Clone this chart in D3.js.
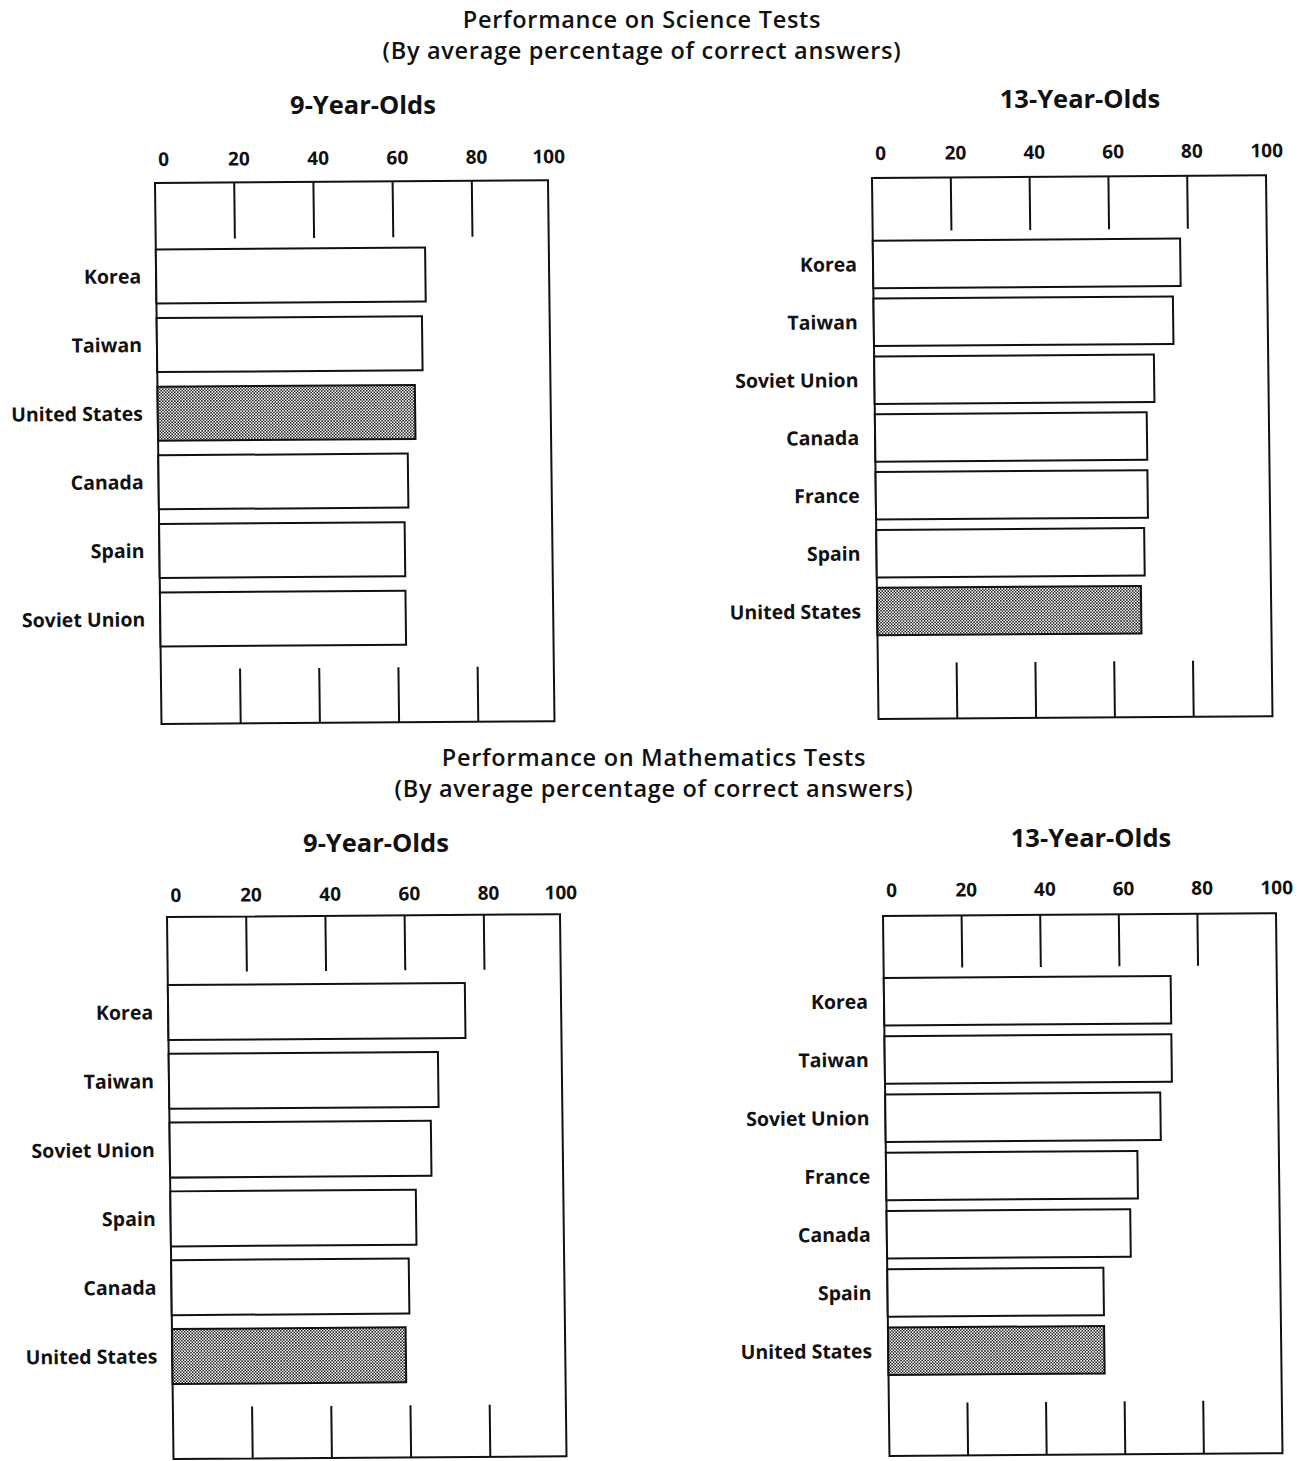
<!DOCTYPE html>
<html>
<head>
<meta charset="utf-8">
<script src="https://cdn.jsdelivr.net/npm/d3@7"></script>
<style>
  html, body { margin: 0; padding: 0; background: #fff; }
  svg { display: block; }
  text { font-family: "Open Sans", "DejaVu Sans", sans-serif; fill: #111; }
</style>
</head>
<body>
<script>
// ---------- data ----------
const tickValues = [0, 20, 40, 60, 80, 100];

const sciCats9  = ["Korea", "Taiwan", "United States", "Canada", "Spain", "Soviet Union"];
const sciVals9  = [68, 67, 65, 63, 62, 62];

const sciCats13 = ["Korea", "Taiwan", "Soviet Union", "Canada", "France", "Spain", "United States"];
const sciVals13 = [78, 76, 71, 69, 69, 68, 67];

const mathCats9  = ["Korea", "Taiwan", "Soviet Union", "Spain", "Canada", "United States"];
const mathVals9  = [75, 68, 66, 62, 60, 59];

const mathCats13 = ["Korea", "Taiwan", "Soviet Union", "France", "Canada", "Spain", "United States"];
const mathVals13 = [73, 73, 70, 64, 62, 55, 55];

const highlight = "United States";

// ---------- layout ----------
const SHEAR_X = 0.012;  // scan skew: x shift per y
const SHEAR_Y = 0.007;  // scan skew: y rise per x

const svg = d3.select("body").append("svg")
  .attr("width", 1303).attr("height", 1461);

const defs = svg.append("defs");
const pat = defs.append("pattern").attr("id", "stip")
  .attr("patternUnits", "userSpaceOnUse").attr("width", 3).attr("height", 3);
pat.append("rect").attr("width", 3).attr("height", 3).attr("fill", "#fff");
pat.append("rect").attr("x", 0).attr("y", 0).attr("width", 1.5).attr("height", 1.5).attr("fill", "#222");
pat.append("rect").attr("x", 1.5).attr("y", 1.5).attr("width", 1.5).attr("height", 1.5).attr("fill", "#222");

function mainTitle(cx, y1, y2, l1, l2) {
  [[y1, l1], [y2, l2]].forEach(([yy, t]) => {
    svg.append("text").attr("x", cx).attr("y", yy).attr("text-anchor", "middle")
      .attr("font-size", 23.5).attr("font-weight", 600)
      .attr("letter-spacing", 0.7).text(t);
  });
}

function panel(cfg, cats, vals) {
  svg.append("text").attr("x", cfg.tx).attr("y", cfg.ty).attr("text-anchor", "middle")
    .attr("font-size", 25.5).attr("font-weight", 700).text(cfg.title);

  const g = svg.append("g")
    .attr("transform", `matrix(1,${-SHEAR_Y},${SHEAR_X},1,${cfg.x0},${cfg.y0})`);

  const x = d3.scaleLinear().domain([0, 100]).range([0, cfg.W]);
  const y = d3.scaleBand().domain(cats).range([cfg.b0, cfg.b1]).paddingInner(cfg.pad);

  g.append("rect").attr("x", 0).attr("y", 0).attr("width", cfg.boxW).attr("height", cfg.H)
    .attr("fill", "none").attr("stroke", "#111").attr("stroke-width", 2);

  const inner = tickValues.filter(t => t > 0 && t < 100);
  g.selectAll(".gt").data(inner).join("line")
    .attr("x1", d => x(d)).attr("x2", d => x(d)).attr("y1", 0).attr("y2", cfg.gTop)
    .attr("stroke", "#111").attr("stroke-width", 2);
  g.selectAll(".gb").data(inner).join("line")
    .attr("x1", d => x(d)).attr("x2", d => x(d)).attr("y1", cfg.gBot).attr("y2", cfg.H)
    .attr("stroke", "#111").attr("stroke-width", 2);

  g.selectAll(".tk").data(tickValues).join("text")
    .attr("x", d => d === 100 ? cfg.boxW + 1 : x(d) + (d === 0 ? 9 : 5))
    .attr("y", cfg.tickDy).attr("text-anchor", "middle")
    .attr("font-size", 19).attr("font-weight", 700).text(d => d);

  const data = cats.map((c, i) => ({ c, v: vals[i] }));
  g.selectAll(".bar").data(data).join("rect")
    .attr("x", 0).attr("y", d => y(d.c))
    .attr("width", d => x(d.v)).attr("height", y.bandwidth())
    .attr("fill", d => d.c === highlight ? "url(#stip)" : "#fff")
    .attr("stroke", "#111").attr("stroke-width", 2);

  g.selectAll(".lb").data(data).join("text")
    .attr("x", cfg.labelDx).attr("y", d => y(d.c) + y.bandwidth() / 2)
    .attr("dy", "0.35em").attr("text-anchor", "end")
    .attr("font-size", 19.5).attr("font-weight", 700).text(d => d.c);
}

mainTitle(642, 28, 59, "Performance on Science Tests", "(By average percentage of correct answers)");
mainTitle(654, 766, 797, "Performance on Mathematics Tests", "(By average percentage of correct answers)");

panel({ title: "9-Year-Olds", tx: 363, ty: 114, x0: 155, y0: 183, W: 396, boxW: 393, H: 541,
        b0: 66.5, b1: 463.5, pad: 0.213, gTop: 56, gBot: 486, labelDx: -15, tickDy: -17 },
      sciCats9, sciVals9);
panel({ title: "13-Year-Olds", tx: 1080, ty: 108, x0: 872, y0: 178, W: 394, boxW: 394, H: 541,
        b0: 62.7, b1: 457.3, pad: 0.179, gTop: 53, gBot: 485, labelDx: -16, tickDy: -18 },
      sciCats13, sciVals13);
panel({ title: "9-Year-Olds", tx: 376, ty: 852, x0: 167, y0: 917, W: 396, boxW: 393, H: 542,
        b0: 68, b1: 467, pad: 0.2, gTop: 55, gBot: 490, labelDx: -15, tickDy: -15 },
      mathCats9, mathVals9);
panel({ title: "13-Year-Olds", tx: 1091, ty: 847, x0: 883, y0: 916, W: 393, boxW: 393, H: 540,
        b0: 62, b1: 459, pad: 0.185, gTop: 52, gBot: 487, labelDx: -16, tickDy: -19 },
      mathCats13, mathVals13);
</script>
</body>
</html>
